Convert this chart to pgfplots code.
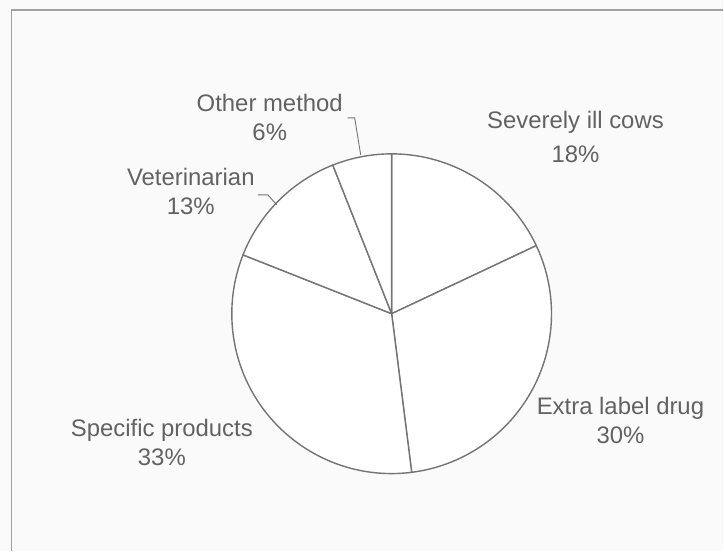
\documentclass[border=0pt]{standalone}
\usepackage{fontspec}
\setmainfont{Liberation Sans}
\usepackage{pgfplots}
\usepackage{pgfplotstable}
\pgfplotsset{compat=1.18}
\definecolor{txt}{HTML}{626262}
\definecolor{edge}{HTML}{747474}
\definecolor{framec}{HTML}{A0A0A0}
\definecolor{bg}{HTML}{FAFAFA}

\pgfplotstableread[col sep=comma]{
label,value,lx,lya,lyb
Severely ill cows,18,576,422,388
Extra label drug,30,621,136,107
Specific products,33,162,114,85
Veterinarian,13,191,365,336
Other method,6,270,439,410
}\piedata

\begin{document}
\begin{tikzpicture}
\begin{axis}[x=1bp,y=1bp,xmin=0,xmax=724,ymin=0,ymax=551,hide axis,clip=false]
\fill[bg] (axis cs:0,0) rectangle (axis cs:724,551);
\draw[framec,line width=1.3bp] (axis cs:11.5,0) -- (axis cs:11.5,541) -- (axis cs:724,541);
\pgfplotstablegetrowsof{\piedata}
\pgfmathtruncatemacro\nrows{\pgfplotsretval-1}
\def\angstart{90}
\pgfplotsforeachungrouped \i in {0,...,\nrows}{%
  \pgfplotstablegetelem{\i}{value}\of\piedata \let\val\pgfplotsretval
  \pgfplotstablegetelem{\i}{label}\of\piedata \let\lab\pgfplotsretval
  \pgfplotstablegetelem{\i}{lx}\of\piedata \let\lx\pgfplotsretval
  \pgfplotstablegetelem{\i}{lya}\of\piedata \let\lya\pgfplotsretval
  \pgfplotstablegetelem{\i}{lyb}\of\piedata \let\lyb\pgfplotsretval
  \pgfmathsetmacro\angend{\angstart-3.6*\val}%
  \edef\temp{%
    \noexpand\filldraw[fill=white,draw=edge,line width=1.4bp,line join=round]
      (axis cs:392,237) -- ++(\angstart:160bp) arc[start angle=\angstart,end angle=\angend,radius=160bp] -- cycle;
    \noexpand\node[anchor=base,text=txt,inner sep=0pt,font=\noexpand\fontsize{24}{28}\noexpand\selectfont] at (axis cs:\lx,\lya) {\lab};
    \noexpand\node[anchor=base,text=txt,inner sep=0pt,font=\noexpand\fontsize{24}{28}\noexpand\selectfont] at (axis cs:\lx,\lyb) {\val\noexpand\%};
  }%
  \temp
  \let\angstart\angend
}
\draw[edge,line width=0.9bp] (axis cs:348,433) -- (axis cs:355,433) -- (axis cs:361,396);
\draw[edge,line width=0.9bp] (axis cs:258,356) -- (axis cs:268,356) -- (axis cs:277,346);
\end{axis}
\end{tikzpicture}
\end{document}
